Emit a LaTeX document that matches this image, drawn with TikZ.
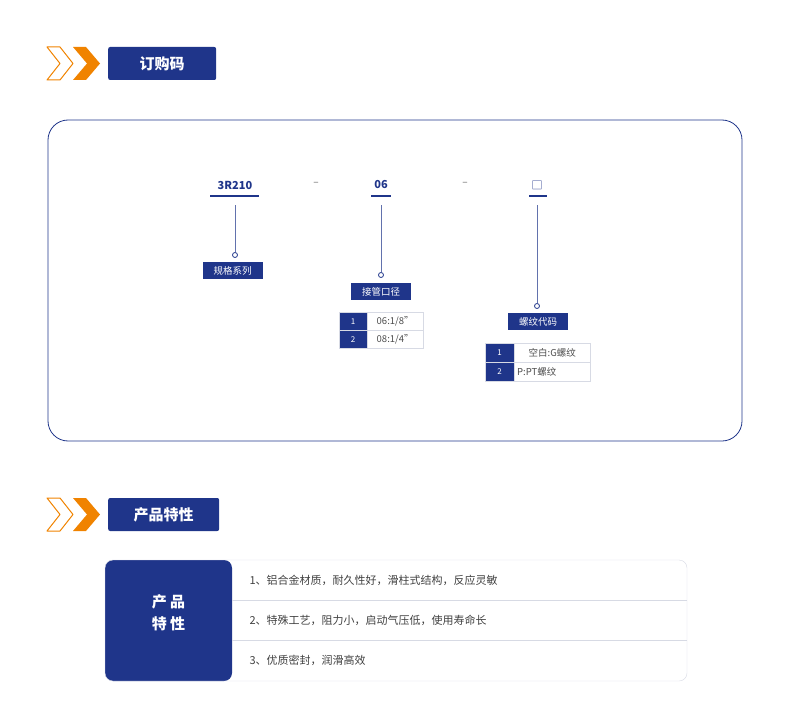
\documentclass[tikz,border=0pt]{standalone}
\usepackage{fontspec}
\setmainfont{Noto Sans CJK SC}
\usetikzlibrary{positioning}
\definecolor{navy}{RGB}{31,53,138}
\definecolor{orng}{RGB}{240,131,0}
\definecolor{lgray}{RGB}{215,218,228}
\tikzset{
  hdr/.style={fill=navy,rounded corners=2pt,text=white,font=\bfseries\fontsize{15}{15}\selectfont,inner sep=0pt,minimum height=33pt,anchor=west},
  tag/.style={fill=navy,text=white,font=\fontsize{9.5}{10}\selectfont,minimum width=60pt,minimum height=17pt,inner sep=0pt},
  code/.style={text=navy,font=\bfseries\fontsize{11}{11}\selectfont},
  numcell/.style={fill=navy,draw=lgray,text=white,font=\fontsize{8}{8}\selectfont,minimum height=18pt,inner sep=0pt,anchor=north west},
  valcell/.style={draw=lgray,text=black!70,font=\fontsize{9.5}{10}\selectfont,minimum height=18pt,inner sep=0pt,anchor=north west},
  row/.style={text=black!75,font=\fontsize{11}{12}\selectfont,anchor=west},
  dot/.style={circle,draw=navy,fill=white,inner sep=0pt,minimum size=5pt,thick}
}
\begin{document}
\begin{tikzpicture}[x=1pt,y=-1pt]
\useasboundingbox (0,0) rectangle (790,706);

% CHEVRONS + TITLES
\foreach \y in {47,498}{
  \draw[orng,line width=1pt,line join=round] (47,\y) -- (60,\y) -- (73,\y+16.5) -- (60,\y+33) -- (47,\y+33) -- (60,\y+16.5) -- cycle;
  \fill[orng] (73,\y) -- (86,\y) -- (100,\y+16.5) -- (86,\y+33) -- (73,\y+33) -- (87,\y+16.5) -- cycle;
}
\node[hdr,minimum width=108pt] (t1) at (108,63.5) {订购码};
\node[hdr,minimum width=111pt] (t2) at (108,514.5) {产品特性};

% ORDER CODE FRAME
\draw[navy,line width=0.8pt,rounded corners=20pt] (48,120) rectangle (742,441);

\node[code] (c1) at (235,185) {3R210};
\node[code] (c2) at (381,185) {06};
\node[code,font=\fontsize{11}{11}\selectfont] (c3) at (537,185) {□};
\node[text=black!60] at (316,184) {–};
\node[text=black!60] at (465,184) {–};
\foreach \n/\a/\b in {c1/210/259,c2/371/391,c3/529/547}
  \draw[navy,line width=2.5pt] (\a,196) -- (\b,196);

% SERIES
\node[dot] (d1) at (235,255) {};
\draw[navy!70] (235,205) -- (d1);
\node[tag] (s1) at (232.5,270.5) {规格系列};

% PORT
\node[dot] (d2) at (381,275) {};
\draw[navy!70] (381,205) -- (d2);
\node[tag] (s2) at (381,291.5) {接管口径};
\node[numcell,minimum width=28pt] (n21) at (339,312) {1};
\node[valcell,minimum width=56pt] (v21) at (367,312) {06:1/8”};
\node[numcell,minimum width=28pt] (n22) at (339,330) {2};
\node[valcell,minimum width=56pt] (v22) at (367,330) {08:1/4"};

% THREAD
\node[dot] (d3) at (537,306) {};
\draw[navy!70] (537,205) -- (d3);
\node[tag] (s3) at (538,321.5) {螺纹代码};
\node[numcell,minimum width=29pt,minimum height=19pt] (n31) at (485,343) {1};
\node[valcell,minimum width=76pt,minimum height=19pt] (v31) at (514,343) {空白:G螺纹};
\node[numcell,minimum width=29pt,minimum height=19pt] (n32) at (485,362) {2};
\node[valcell,minimum width=76pt,minimum height=19pt,text width=70pt,align=left] (v32) at (514,362) {P:PT螺纹};

% FEATURES TABLE
\fill[navy,rounded corners=8pt] (105,560) -- (232,560) -- (232,681) -- (105,681) -- cycle;
\draw[lgray,rounded corners=8pt] (105,560) rectangle (687,681);
\draw[lgray] (232,600) -- (687,600) (232,640) -- (687,640);
\node[text=white,font=\bfseries\fontsize{15}{22}\selectfont,align=center] (pf) at (168.5,613) {产 品\\特 性};
\node[row] (r1) at (246,580) {1、铝合金材质，耐久性好，滑柱式结构，反应灵敏};
\node[row] (r2) at (246,620) {2、特殊工艺，阻力小，启动气压低，使用寿命长};
\node[row] (r3) at (246,660) {3、优质密封，润滑高效};
\end{tikzpicture}
\end{document}
